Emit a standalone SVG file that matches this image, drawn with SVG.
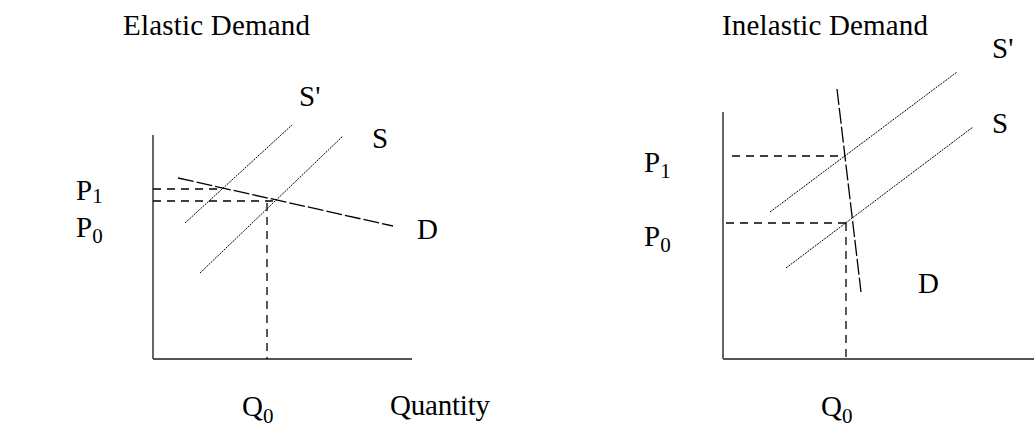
<svg xmlns="http://www.w3.org/2000/svg" width="1034" height="429" viewBox="0 0 1034 429">
<style>
text{font-family:"Liberation Serif","Times New Roman",serif;font-size:29px;fill:#000}
.sub{font-size:21px}
.axis{stroke:#000;stroke-width:1.2;fill:none}
.xaxis{stroke:#555;stroke-width:2;fill:none}
.dem{stroke:#000;stroke-width:1.3;stroke-dasharray:16 3;fill:none}
.sup{stroke:#000;stroke-width:1;stroke-dasharray:2 1;fill:none}
.guide{stroke:#000;stroke-width:1.3;stroke-dasharray:8 6;fill:none}
</style>
<rect width="1034" height="429" fill="#fff"/>
<g id="elastic">
  <text x="123" y="35" textLength="187">Elastic Demand</text>
  <g id="elastic-axes">
    <line class="axis" x1="153" y1="135" x2="153" y2="359"/>
    <line class="xaxis" x1="153" y1="359" x2="412" y2="359"/>
  </g>
  <g id="elastic-curves">
    <line class="dem" x1="178" y1="178" x2="393" y2="226"/>
    <line class="sup" x1="185" y1="223" x2="292" y2="125"/>
    <line class="sup" x1="200" y1="273" x2="343" y2="136"/>
    <line class="guide" x1="153" y1="189" x2="223" y2="189"/>
    <line class="guide" x1="153" y1="201" x2="277" y2="201"/>
    <line class="guide" x1="267" y1="203" x2="267" y2="359"/>
  </g>
  <g id="elastic-labels">
    <text x="299" y="106">S'</text>
    <text x="372" y="148">S</text>
    <text x="76" y="200">P<tspan class="sub" dy="3">1</tspan></text>
    <text x="76" y="237">P<tspan class="sub" dy="6">0</tspan></text>
    <text x="417" y="239">D</text>
    <text x="242" y="416">Q<tspan class="sub" dy="7">0</tspan></text>
    <text x="390" y="415" textLength="100">Quantity</text>
  </g>
</g>
<g id="inelastic">
  <text x="722" y="35" textLength="206">Inelastic Demand</text>
  <g id="inelastic-axes">
    <line class="axis" x1="723" y1="112" x2="723" y2="359"/>
    <line class="xaxis" x1="723" y1="359" x2="1034" y2="359"/>
  </g>
  <g id="inelastic-curves">
    <line class="dem" x1="837" y1="89" x2="861" y2="292"/>
    <line class="sup" x1="770" y1="212" x2="957" y2="72"/>
    <line class="sup" x1="786" y1="268" x2="973" y2="127"/>
    <line class="guide" x1="732" y1="156" x2="845" y2="156"/>
    <line class="guide" x1="726" y1="223" x2="846" y2="223"/>
    <line class="guide" x1="846" y1="223" x2="846" y2="359"/>
  </g>
  <g id="inelastic-labels">
    <text x="992" y="58">S'</text>
    <text x="992" y="133">S</text>
    <text x="644" y="172">P<tspan class="sub" dy="6">1</tspan></text>
    <text x="644" y="246">P<tspan class="sub" dy="6">0</tspan></text>
    <text x="918" y="293">D</text>
    <text x="821" y="416">Q<tspan class="sub" dy="7">0</tspan></text>
  </g>
</g>
</svg>
